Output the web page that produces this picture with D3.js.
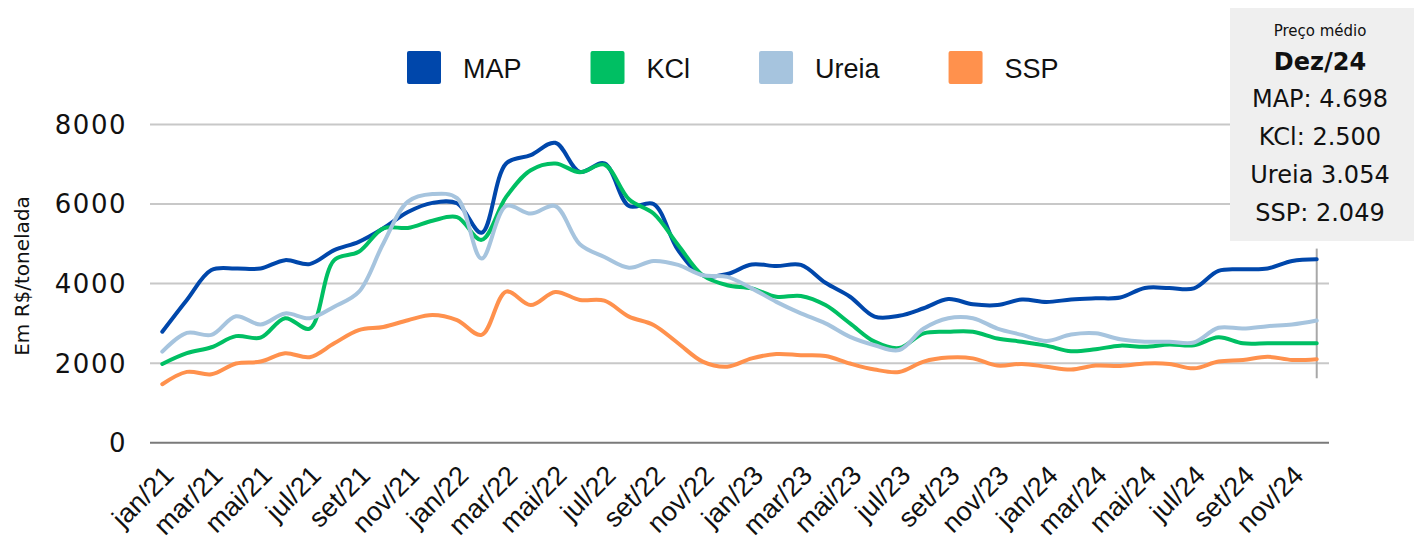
<!DOCTYPE html>
<html>
<head>
<meta charset="utf-8">
<script src="https://cdn.jsdelivr.net/npm/d3@7"></script>
<style>
  html, body { margin: 0; padding: 0; background: #fff; }
  svg { display: block; }
</style>
</head>
<body>
<svg id="chart" width="1414" height="540"></svg>
<script>
const monthNames = ["jan", "fev", "mar", "abr", "mai", "jun", "jul", "ago", "set", "out", "nov", "dez"];
const years = ["21", "22", "23", "24"];
const months = years.flatMap(y => monthNames.map(m => `${m}/${y}`));

const mapPrices = [2790, 3590, 4340, 4380, 4380, 4590, 4490, 4840, 5050, 5390, 5800, 6030,
                   6020, 5280, 7020, 7230, 7540, 6810, 7020, 5950, 6000, 4840, 4210, 4240,
                   4480, 4440, 4470, 4020, 3670, 3170, 3190, 3380, 3610, 3480, 3460, 3600,
                   3540, 3600, 3630, 3650, 3890, 3890, 3880, 4320, 4360, 4380, 4570, 4610];
const kclPrices = [1980, 2250, 2400, 2680, 2640, 3130, 2870, 4590, 4800, 5390, 5400, 5580,
                   5670, 5100, 6180, 6850, 7020, 6800, 6990, 6120, 5760, 4970, 4210, 3960,
                   3880, 3670, 3690, 3460, 3000, 2540, 2380, 2750, 2790, 2790, 2620, 2540,
                   2440, 2300, 2350, 2440, 2410, 2470, 2450, 2650, 2500, 2500, 2500, 2500];
const ureiaPrices = [2290, 2760, 2710, 3180, 2970, 3250, 3130, 3420, 3790, 5010, 6060, 6250,
                     6150, 4630, 5950, 5760, 5950, 4990, 4670, 4400, 4570, 4470, 4210, 4170,
                     3880, 3540, 3250, 3000, 2660, 2450, 2330, 2870, 3130, 3130, 2870, 2710,
                     2560, 2720, 2750, 2600, 2540, 2540, 2520, 2890, 2870, 2930, 2970, 3070];
const sspPrices = [1470, 1780, 1720, 1990, 2040, 2250, 2150, 2500, 2830, 2910, 3080, 3210,
                   3080, 2710, 3800, 3460, 3790, 3590, 3570, 3170, 2960, 2500, 2040, 1910,
                   2120, 2230, 2200, 2180, 1990, 1840, 1780, 2040, 2140, 2120, 1940, 1980,
                   1910, 1840, 1940, 1930, 1990, 1980, 1870, 2040, 2080, 2160, 2080, 2100];

const seriesNames = ["MAP", "KCl", "Ureia", "SSP"];
const seriesColors = ["#0047ab", "#00bf63", "#a6c4de", "#ff914d"];
const seriesValues = [mapPrices, kclPrices, ureiaPrices, sspPrices];

const yTicks = [0, 2000, 4000, 6000, 8000];
const noteLines = ["MAP: 4.698", "KCl: 2.500", "Ureia 3.054", "SSP: 2.049"];

const svg = d3.select("#chart");
const labelFont = "'Liberation Sans', Arial, sans-serif";
const numFont = "'DejaVu Sans', sans-serif";

const x = d3.scalePoint().domain(months).range([150, 1329]).padding(0.5);
const y = d3.scaleLinear().domain([0, 8000]).range([442.7, 124.5]);

// gridlines
svg.append("g")
  .selectAll("line")
  .data(yTicks)
  .join("line")
  .attr("x1", 150).attr("x2", 1329)
  .attr("y1", d => y(d)).attr("y2", d => y(d))
  .attr("stroke", d => d === 0 ? "#7a7a7a" : "#c8c8c8")
  .attr("stroke-width", 2);

// y tick labels
svg.append("g")
  .selectAll("text")
  .data(yTicks)
  .join("text")
  .attr("x", 127)
  .attr("y", d => y(d))
  .attr("dy", "0.36em")
  .attr("text-anchor", "end")
  .attr("font-family", numFont)
  .attr("font-size", 26)
  .attr("letter-spacing", 1.5)
  .attr("fill", "#111")
  .text(d => d);

// y title
svg.append("text")
  .attr("transform", "translate(29,276) rotate(-90)")
  .attr("text-anchor", "middle")
  .attr("font-family", numFont)
  .attr("font-size", 20)
  .attr("fill", "#111")
  .text("Em R$/tonelada");

// x tick labels
svg.append("g")
  .selectAll("text")
  .data(months.filter((d, i) => i % 2 === 0))
  .join("text")
  .attr("transform", d => `translate(${x(d) + 13},477) rotate(-45)`)
  .attr("text-anchor", "end")
  .attr("font-family", labelFont)
  .attr("font-size", 27)
  .attr("fill", "#111")
  .text(d => d);

// marker line at last month
const lastMonth = months[months.length - 1];
svg.append("line")
  .attr("x1", x(lastMonth)).attr("x2", x(lastMonth))
  .attr("y1", y(4880)).attr("y2", y(1620))
  .attr("stroke", "#a8a8a8")
  .attr("stroke-width", 2);

// series lines
const line = d3.line()
  .x((d, i) => x(months[i]))
  .y(d => y(d))
  .curve(d3.curveCatmullRom.alpha(0.5));

svg.append("g")
  .selectAll("path")
  .data(seriesValues)
  .join("path")
  .attr("d", d => line(d))
  .attr("fill", "none")
  .attr("stroke", (d, i) => seriesColors[i])
  .attr("stroke-width", 4)
  .attr("stroke-linejoin", "round")
  .attr("stroke-linecap", "round");

// legend
const legend = svg.append("g");
let lx = 407;
seriesNames.forEach((name, i) => {
  legend.append("rect")
    .attr("x", lx).attr("y", 51)
    .attr("width", 34).attr("height", 33)
    .attr("rx", 2)
    .attr("fill", seriesColors[i]);
  const t = legend.append("text")
    .attr("x", lx + 56).attr("y", 68)
    .attr("dy", "0.36em")
    .attr("font-family", labelFont)
    .attr("font-size", 27)
    .attr("fill", "#111")
    .text(name);
  lx += 56 + t.node().getComputedTextLength() + 69;
});

// note box
const note = svg.append("g");
note.append("rect")
  .attr("x", 1230).attr("y", 8)
  .attr("width", 184).attr("height", 233)
  .attr("fill", "#efefef");
note.append("text")
  .attr("x", 1320).attr("y", 31)
  .attr("dy", "0.36em")
  .attr("text-anchor", "middle")
  .attr("font-family", numFont)
  .attr("font-size", 15)
  .attr("fill", "#111")
  .text("Preço médio");
note.append("text")
  .attr("x", 1320).attr("y", 61)
  .attr("dy", "0.36em")
  .attr("text-anchor", "middle")
  .attr("font-family", numFont)
  .attr("font-weight", "bold")
  .attr("font-size", 24)
  .attr("fill", "#111")
  .text("Dez/24");
note.append("g")
  .selectAll("text")
  .data(noteLines)
  .join("text")
  .attr("x", 1320)
  .attr("y", (d, i) => 98 + i * 38)
  .attr("dy", "0.36em")
  .attr("text-anchor", "middle")
  .attr("font-family", numFont)
  .attr("font-size", 24)
  .attr("fill", "#111")
  .text(d => d);
</script>
</body>
</html>
